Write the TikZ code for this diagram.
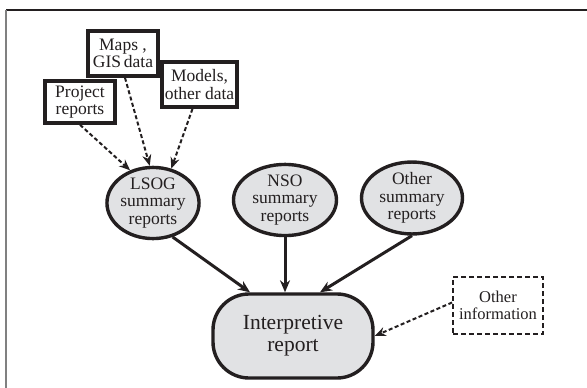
\documentclass[tikz,border=0pt]{standalone}
\usepackage{fontspec}
\setmainfont{Liberation Serif}
\usetikzlibrary{arrows.meta,shapes.geometric,calc}
\definecolor{ink}{RGB}{35,31,32}
\definecolor{fillg}{RGB}{225,226,228}
\begin{document}
\begin{tikzpicture}[x=1pt,y=-1pt,
  txt/.style={font=\fontsize{17.5}{17.5}\selectfont,align=center,text=ink},
  srcbox/.style={txt,draw=ink,line width=3.6pt,fill=white,inner sep=0pt},
  summ/.style={txt,ellipse,draw=ink,line width=3.4pt,fill=fillg,inner sep=0pt},
  arr/.style={draw=ink,line width=3pt,-{Stealth[length=12pt,width=10pt]}},
  darr/.style={draw=ink,line width=2pt,dash pattern=on 4pt off 2.5pt,-{Stealth[length=11pt,width=9pt]}}]
\useasboundingbox (0,0) rectangle (587,388);
\draw[ink,line width=1.5pt] (6,10) -- (587,10);
\draw[gray,line width=2pt] (6,10) -- (6,388);

\node[srcbox,minimum width=70pt,minimum height=42pt] (proj) at (80,102) {Project\\reports};
\node[srcbox,minimum width=70pt,minimum height=45pt] (maps) at (123,53.5) {Maps ,\\GIS\,data};
\node[srcbox,minimum width=75pt,minimum height=45pt] (models) at (199.5,84.5) {Models,\\other data};

\node[summ,minimum width=88pt,minimum height=62pt] (lsog) at (153,203) {LSOG\\summary\\reports};
\node[summ,minimum width=103pt,minimum height=64pt] (nso) at (285,200) {NSO\\summary\\reports};
\node[summ,minimum width=101pt,minimum height=65pt] (oth) at (412,198) {Other\\summary\\reports};

\node[txt,draw=ink,line width=3.4pt,fill=fillg,rounded corners=36pt,minimum width=160pt,minimum height=84pt,inner sep=0pt,font=\fontsize{21.5}{22}\selectfont] (interp) at (293,336) {Interpretive\\report};

\node[txt,draw=ink,line width=1.8pt,dash pattern=on 5pt off 3pt,minimum width=90pt,minimum height=57pt,inner sep=0pt,font=\fontsize{16.5}{17}\selectfont] (oinfo) at (498,305.5) {Other\\information};

\draw[darr] (proj.south) -- (lsog.125);
\draw[darr] ([xshift=2pt]maps.south) -- (lsog.95);
\draw[darr] ([xshift=-7pt]models.south) -- (lsog.62);

\draw[arr] (lsog.300) -- ([xshift=-43pt]interp.north);
\draw[arr] (nso.south) -- (nso.south |- interp.north);
\draw[arr] (oth.south) -- ([xshift=27pt]interp.north);
\draw[darr] ([yshift=3pt]oinfo.west) -- (interp.east);
\end{tikzpicture}
\end{document}
